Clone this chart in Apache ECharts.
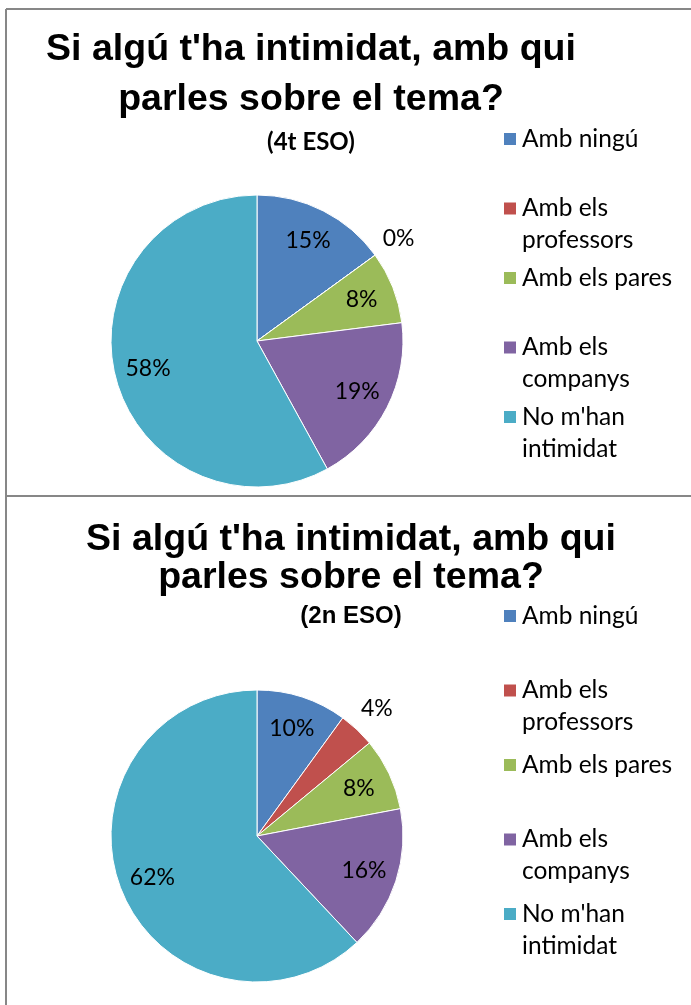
<!DOCTYPE html>
<html>
<head>
<meta charset="utf-8">
<script src="https://cdn.jsdelivr.net/npm/echarts@6/dist/echarts.min.js"></script>
<style>
  html, body { margin: 0; padding: 0; background: #fff; }
  #chart { width: 691px; height: 1005px; }
</style>
</head>
<body>
<div id="chart"></div>
<script>
// categories and values (percentages)
var categories = ['Amb ningú', 'Amb els professors', 'Amb els pares', 'Amb els companys', "No m'han intimidat"];
var legendLabels = ['Amb ningú', 'Amb els\nprofessors', 'Amb els pares', 'Amb els\ncompanys', "No m'han\nintimidat"];
var values4t = [15, 0, 8, 19, 58];
var values2n = [10, 4, 8, 16, 62];
var titleText = "Si algú t'ha intimidat, amb qui\nparles sobre el tema?";
var colors = ['#4F81BD', '#C0504D', '#9BBB59', '#8064A2', '#4BACC6'];

var labelFont = 'Lato';
var titleFont = 'Liberation Sans';

function toData(values) {
  return categories.map(function (c, i) {
    return { name: c, value: values[i] };
  });
}

// main pie + two transparent rings that only carry the data labels
function pieSeries(values, cy) {
  var center = [257, cy];
  var labelStyle = {
    position: 'inside',
    formatter: '{c}%',
    color: '#000',
    fontFamily: labelFont,
    fontSize: 23
  };
  var main = {
    type: 'pie',
    center: center,
    radius: 146,
    startAngle: 90,
    silent: true,
    avoidLabelOverlap: false,
    label: { show: false },
    labelLine: { show: false },
    itemStyle: { borderColor: '#fff', borderWidth: 1 },
    emphasis: { disabled: true },
    data: toData(values)
  };
  var inner = {
    type: 'pie',
    center: center,
    radius: [73, 146],
    startAngle: 90,
    silent: true,
    avoidLabelOverlap: false,
    itemStyle: { color: 'rgba(0,0,0,0)' },
    label: labelStyle,
    labelLine: { show: false },
    emphasis: { disabled: true },
    data: toData(values).map(function (d) {
      d.label = { show: d.value >= 5 };
      return d;
    })
  };
  var outer = {
    type: 'pie',
    center: center,
    radius: [150, 194],
    startAngle: 90,
    silent: true,
    avoidLabelOverlap: false,
    itemStyle: { color: 'rgba(0,0,0,0)' },
    label: labelStyle,
    labelLine: { show: false },
    emphasis: { disabled: true },
    data: toData(values).map(function (d) {
      d.label = { show: d.value < 5 };
      return d;
    })
  };
  return [main, inner, outer];
}

function legendFormatter(name) {
  var t = legendLabels[categories.indexOf(name)];
  // leading empty line keeps the marker level with the first text line
  return '\n' + t + (t.indexOf('\n') < 0 ? '\n' : '');
}

function makeLegend(top, gap) {
  return {
    orient: 'vertical',
    left: 502,
    top: top,
    padding: 0,
    itemGap: gap,
    itemWidth: 14,
    itemHeight: 14,
    icon: 'rect',
    selectedMode: false,
    data: categories,
    formatter: legendFormatter,
    textStyle: {
      fontFamily: labelFont,
      fontSize: 24.5,
      lineHeight: 32,
      color: '#000'
    }
  };
}

function makeTitle(left, top, lineH, sub, subFont, gap) {
  return {
    text: titleText,
    subtext: sub,
    left: left,
    top: top,
    padding: 0,
    itemGap: gap,
    textAlign: 'center',
    textVerticalAlign: 'top',
    textStyle: {
      fontFamily: titleFont,
      fontSize: 37.5,
      fontWeight: 'bold',
      lineHeight: lineH,
      color: '#000'
    },
    subtextStyle: {
      fontFamily: subFont,
      fontSize: 24,
      fontWeight: 'bold',
      lineHeight: 24,
      color: '#000'
    }
  };
}

var borderStyle = { stroke: '#878787', lineWidth: 2 };

var option = {
  animation: false,
  color: colors,
  title: [
    makeTitle(311, 25, 50, '(4t ESO)', labelFont, 5),
    makeTitle(351, 521, 38, '(2n ESO)', titleFont, 7)
  ],
  legend: [
    makeLegend(91, -26.5),
    makeLegend(568, -21.5)
  ],
  graphic: [
    { type: 'line', shape: { x1: 6, y1: 9, x2: 691, y2: 9 }, style: borderStyle },
    { type: 'line', shape: { x1: 6, y1: 9, x2: 6, y2: 1005 }, style: borderStyle },
    { type: 'line', shape: { x1: 6, y1: 496, x2: 691, y2: 496 }, style: borderStyle }
  ],
  series: pieSeries(values4t, 341).concat(pieSeries(values2n, 836))
};

var myChart = echarts.init(document.getElementById('chart'));
myChart.setOption(option);
</script>
</body>
</html>
